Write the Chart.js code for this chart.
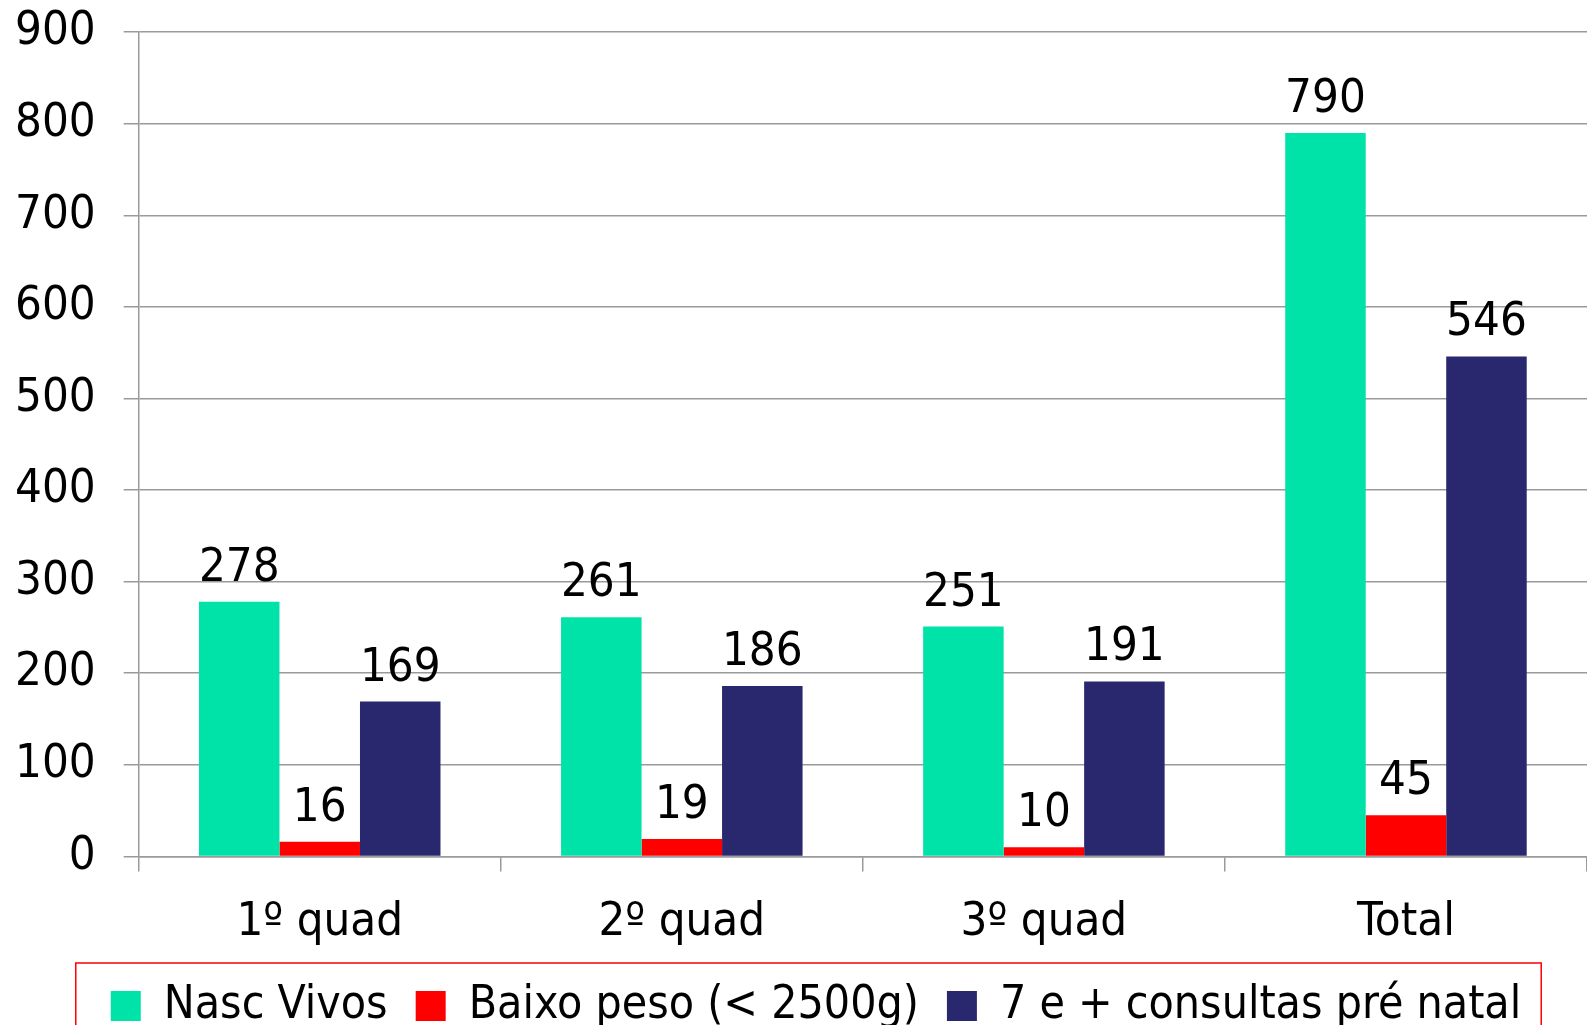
<!DOCTYPE html>
<html>
<head>
<meta charset="utf-8">
<script src="https://cdn.jsdelivr.net/npm/chart.js"></script>
<style>
  html, body { margin: 0; padding: 0; background: #fff; overflow: hidden; }
  /* spostato un po' in alto/sinistra per allineare l'area del grafico */
  #wrap { width: 1600px; height: 1083px; position: relative; left: -13px; top: -24px; }
</style>
</head>
<body>
<div id="wrap"><canvas id="chart"></canvas></div>
<script>
// dati
const categories = ["1º quad", "2º quad", "3º quad", "Total"];
const nascVivos = [278, 261, 251, 790];
const baixoPeso = [16, 19, 10, 45];
const consultas = [169, 186, 191, 546];
const yTicks = [0, 100, 200, 300, 400, 500, 600, 700, 800, 900];

const FONT = "'DejaVu Sans Condensed', 'DejaVu Sans', sans-serif";
const GRID = "#9a9a9a";

// etichette sopra le barre
const valueLabels = {
  id: "valueLabels",
  afterDatasetsDraw(chart) {
    const { ctx } = chart;
    ctx.save();
    ctx.font = `47px ${FONT}`;
    ctx.fillStyle = "#000";
    ctx.textAlign = "center";
    ctx.textBaseline = "alphabetic";
    chart.data.datasets.forEach((ds, i) => {
      chart.getDatasetMeta(i).data.forEach((bar, j) => {
        ctx.fillText(String(ds.data[j]), bar.x, bar.y - 21);
      });
    });
    ctx.restore();
  }
};

// legenda spostata (destra/su) + bordo rosso
const legendBorder = {
  id: "legendBorder",
  afterLayout(chart) {
    const lg = chart.legend;
    if (!lg) return;
    lg.left += 29;
    lg.right += 29;
    lg.top -= 20;
    lg.bottom -= 20;
  },
  afterDraw(chart) {
    const lg = chart.legend;
    if (!lg || !lg.legendHitBoxes.length) return;
    const boxes = lg.legendHitBoxes;
    const left = Math.min(...boxes.map(b => b.left)) - 35;
    const right = Math.max(...boxes.map(b => b.left + b.width)) + 20;
    const ctx = chart.ctx;
    ctx.save();
    ctx.strokeStyle = "#ff0000";
    ctx.lineWidth = 1.5;
    ctx.strokeRect(left, boxes[0].top - 20, right - left, 200);
    ctx.restore();
  }
};

new Chart(document.getElementById("chart"), {
  type: "bar",
  data: {
    labels: categories,
    datasets: [
      { label: "Nasc Vivos", data: nascVivos, backgroundColor: "#00e3a8" },
      { label: "Baixo peso (< 2500g)", data: baixoPeso, backgroundColor: "#ff0000" },
      { label: "7 e + consultas pré natal", data: consultas, backgroundColor: "#29286f" }
    ]
  },
  options: {
    responsive: true,
    maintainAspectRatio: false,
    animation: false,
    layout: { padding: { top: 8, left: 0, right: 0, bottom: 0 } },
    datasets: { bar: { categoryPercentage: 0.667, barPercentage: 1.0 } },
    scales: {
      x: {
        grid: { offset: true, drawOnChartArea: false, color: GRID, lineWidth: 1.5, tickLength: 15 },
        border: { color: GRID, width: 1.5 },
        ticks: { color: "#000", font: { family: FONT, size: 47, lineHeight: 0.375 }, padding: 43 }
      },
      y: {
        min: 0, max: 900,
        afterBuildTicks(axis) { axis.ticks = yTicks.map(v => ({ value: v })); },
        grid: { color: GRID, lineWidth: 1.5, tickLength: 15 },
        border: { color: GRID, width: 1.5 },
        ticks: { color: "#000", font: { family: FONT, size: 47 }, padding: 28 }
      }
    },
    plugins: {
      tooltip: { enabled: false },
      legend: {
        position: "bottom",
        labels: {
          color: "#000",
          font: { family: FONT, size: 46 },
          boxWidth: 30, boxHeight: 30,
          padding: 28
        }
      }
    }
  },
  plugins: [valueLabels, legendBorder]
});
</script>
</body>
</html>
